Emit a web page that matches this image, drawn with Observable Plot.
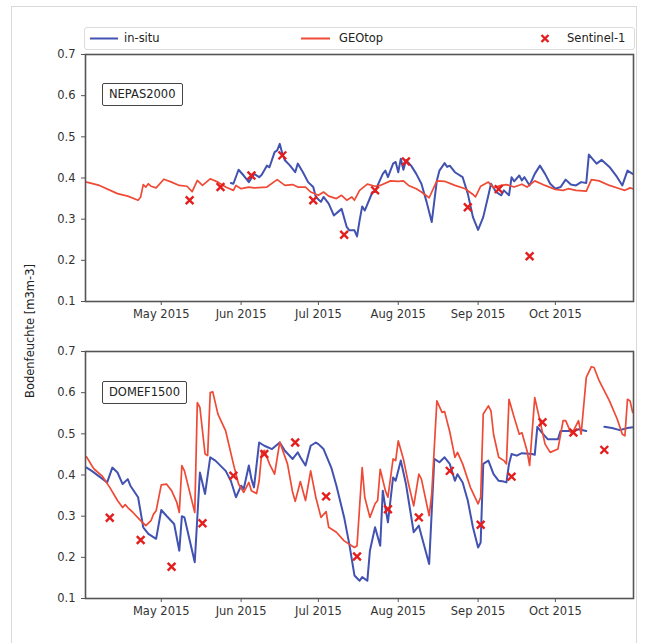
<!DOCTYPE html>
<html>
<head>
<meta charset="utf-8">
<script src="https://cdn.jsdelivr.net/npm/d3@7"></script>
<script src="https://cdn.jsdelivr.net/npm/@observablehq/plot@0.6"></script>
<style>
  body { margin: 0; background: #fff; font-family: "DejaVu Sans", sans-serif; color: #333; }
  #fig { position: relative; width: 646px; height: 643px; overflow: hidden; }
  .outer { position: absolute; left: 11px; top: 6px; width: 624px; height: 645px; border: 1px solid #d9d9d9; }
  .panel { position: absolute; left: 0; }
  .legend { position: absolute; left: 84px; top: 27px; width: 549px; height: 21px; border: 1px solid #dcdcdc; border-radius: 3px; background: #fff; }
  .legend svg { position: absolute; left: 0; top: 0; overflow: visible; }
  .leg-text { position: absolute; top: 3px; font-size: 11.5px; line-height: 14px; color: #222; white-space: nowrap; }
  .ylabel { position: absolute; left: 30px; top: 331px; transform: translate(-50%, -50%) rotate(-90deg); font-size: 11.5px; white-space: nowrap; color: #222; }
  .station { position: absolute; font-size: 11.5px; line-height: 13px; padding: 4px 6px; border: 1.5px solid #444; border-radius: 2px; background: #fff; color: #222; white-space: nowrap; }
</style>
</head>
<body>
<div id="fig">
  <div class="outer"></div>
  <div class="ylabel">Bodenfeuchte [m3m-3]</div>
</div>
<script>
// Soil moisture 2015: station measurements, GEOtop model and Sentinel-1 retrievals
const seriesNames = ["in-situ", "GEOtop", "Sentinel-1"];
const monthTicks = ["2015-05-01", "2015-06-01", "2015-07-01", "2015-08-01", "2015-09-01", "2015-10-01"];
const yTicks = [0.1, 0.2, 0.3, 0.4, 0.5, 0.6, 0.7];
const stations = ["NEPAS2000", "DOMEF1500"];

const nepasInsitu = [["2015-05-28",0.388],["2015-05-29",0.386],["2015-05-31",0.420],["2015-06-02",0.406],["2015-06-04",0.390],["2015-06-06",0.410],["2015-06-08",0.402],["2015-06-09",0.408],["2015-06-11",0.430],["2015-06-12",0.426],["2015-06-14",0.463],["2015-06-15",0.467],["2015-06-16",0.483],["2015-06-17",0.459],["2015-06-18",0.443],["2015-06-20",0.430],["2015-06-22",0.414],["2015-06-23",0.435],["2015-06-25",0.414],["2015-06-27",0.390],["2015-06-29",0.378],["2015-06-30",0.354],["2015-07-02",0.342],["2015-07-03",0.354],["2015-07-05",0.338],["2015-07-07",0.309],["2015-07-10",0.325],["2015-07-12",0.281],["2015-07-13",0.273],["2015-07-15",0.273],["2015-07-16",0.258],["2015-07-17",0.297],["2015-07-18",0.331],["2015-07-19",0.321],["2015-07-22",0.366],["2015-07-23",0.366],["2015-07-24",0.382],["2015-07-26",0.410],["2015-07-27",0.418],["2015-07-28",0.402],["2015-07-30",0.435],["2015-07-31",0.439],["2015-08-01",0.414],["2015-08-02",0.447],["2015-08-03",0.420],["2015-08-04",0.443],["2015-08-06",0.430],["2015-08-08",0.410],["2015-08-10",0.386],["2015-08-12",0.342],["2015-08-14",0.293],["2015-08-16",0.394],["2015-08-17",0.418],["2015-08-19",0.436],["2015-08-20",0.427],["2015-08-21",0.430],["2015-08-23",0.414],["2015-08-26",0.402],["2015-08-28",0.362],["2015-08-30",0.305],["2015-09-01",0.274],["2015-09-03",0.305],["2015-09-05",0.358],["2015-09-06",0.386],["2015-09-08",0.366],["2015-09-10",0.358],["2015-09-11",0.370],["2015-09-13",0.358],["2015-09-14",0.402],["2015-09-15",0.392],["2015-09-17",0.406],["2015-09-18",0.394],["2015-09-19",0.402],["2015-09-21",0.382],["2015-09-23",0.410],["2015-09-25",0.430],["2015-09-27",0.410],["2015-09-29",0.386],["2015-10-01",0.374],["2015-10-03",0.378],["2015-10-05",0.396],["2015-10-07",0.384],["2015-10-09",0.382],["2015-10-11",0.390],["2015-10-13",0.388],["2015-10-14",0.457],["2015-10-17",0.435],["2015-10-19",0.444],["2015-10-22",0.427],["2015-10-25",0.402],["2015-10-27",0.382],["2015-10-29",0.418],["2015-10-31",0.410]];

const nepasGeotop = [["2015-04-02",0.390],["2015-04-07",0.382],["2015-04-14",0.362],["2015-04-18",0.356],["2015-04-22",0.346],["2015-04-23",0.354],["2015-04-24",0.384],["2015-04-25",0.378],["2015-04-26",0.386],["2015-04-27",0.380],["2015-04-29",0.376],["2015-05-02",0.397],["2015-05-05",0.390],["2015-05-08",0.382],["2015-05-11",0.380],["2015-05-13",0.367],["2015-05-15",0.394],["2015-05-17",0.382],["2015-05-20",0.398],["2015-05-23",0.390],["2015-05-26",0.378],["2015-05-29",0.370],["2015-05-30",0.382],["2015-06-01",0.374],["2015-06-04",0.378],["2015-06-06",0.376],["2015-06-11",0.378],["2015-06-15",0.396],["2015-06-18",0.382],["2015-06-21",0.384],["2015-06-23",0.378],["2015-06-26",0.378],["2015-06-28",0.366],["2015-07-01",0.358],["2015-07-03",0.366],["2015-07-05",0.356],["2015-07-08",0.350],["2015-07-10",0.358],["2015-07-12",0.346],["2015-07-14",0.354],["2015-07-15",0.346],["2015-07-17",0.370],["2015-07-20",0.385],["2015-07-23",0.380],["2015-07-25",0.382],["2015-07-29",0.393],["2015-08-01",0.392],["2015-08-03",0.393],["2015-08-05",0.382],["2015-08-08",0.374],["2015-08-10",0.366],["2015-08-13",0.352],["2015-08-16",0.393],["2015-08-19",0.392],["2015-08-23",0.382],["2015-08-27",0.374],["2015-08-30",0.360],["2015-08-31",0.354],["2015-09-02",0.380],["2015-09-05",0.390],["2015-09-07",0.376],["2015-09-10",0.382],["2015-09-12",0.384],["2015-09-15",0.378],["2015-09-18",0.385],["2015-09-20",0.378],["2015-09-23",0.393],["2015-09-27",0.382],["2015-10-01",0.372],["2015-10-04",0.370],["2015-10-06",0.374],["2015-10-09",0.370],["2015-10-13",0.368],["2015-10-15",0.396],["2015-10-18",0.393],["2015-10-22",0.382],["2015-10-26",0.374],["2015-10-28",0.370],["2015-10-30",0.376],["2015-10-31",0.374]];

const nepasS1 = [["2015-05-12",0.346],["2015-05-24",0.378],["2015-06-05",0.406],["2015-06-17",0.455],["2015-06-29",0.346],["2015-07-11",0.262],["2015-07-23",0.370],["2015-08-04",0.440],["2015-08-28",0.329],["2015-09-09",0.373],["2015-09-21",0.210]];

const domefInsitu = [["2015-04-02",0.418],["2015-04-04",0.410],["2015-04-10",0.382],["2015-04-12",0.418],["2015-04-14",0.406],["2015-04-16",0.378],["2015-04-18",0.390],["2015-04-19",0.374],["2015-04-22",0.346],["2015-04-24",0.273],["2015-04-26",0.257],["2015-04-29",0.245],["2015-05-01",0.315],["2015-05-03",0.301],["2015-05-06",0.281],["2015-05-08",0.216],["2015-05-09",0.300],["2015-05-10",0.297],["2015-05-14",0.188],["2015-05-16",0.406],["2015-05-18",0.354],["2015-05-20",0.443],["2015-05-22",0.435],["2015-05-26",0.410],["2015-05-28",0.386],["2015-05-30",0.346],["2015-06-01",0.374],["2015-06-02",0.366],["2015-06-04",0.423],["2015-06-05",0.390],["2015-06-06",0.370],["2015-06-08",0.479],["2015-06-10",0.471],["2015-06-13",0.463],["2015-06-16",0.479],["2015-06-18",0.459],["2015-06-21",0.439],["2015-06-23",0.455],["2015-06-24",0.443],["2015-06-26",0.423],["2015-06-28",0.471],["2015-06-30",0.479],["2015-07-01",0.475],["2015-07-03",0.463],["2015-07-06",0.418],["2015-07-08",0.374],["2015-07-11",0.297],["2015-07-13",0.232],["2015-07-15",0.156],["2015-07-17",0.143],["2015-07-18",0.152],["2015-07-20",0.143],["2015-07-21",0.216],["2015-07-23",0.273],["2015-07-25",0.228],["2015-07-26",0.362],["2015-07-27",0.321],["2015-07-28",0.285],["2015-07-30",0.394],["2015-07-31",0.386],["2015-08-02",0.435],["2015-08-04",0.378],["2015-08-07",0.261],["2015-08-09",0.277],["2015-08-10",0.253],["2015-08-13",0.184],["2015-08-15",0.439],["2015-08-17",0.431],["2015-08-19",0.443],["2015-08-21",0.427],["2015-08-23",0.386],["2015-08-24",0.402],["2015-08-26",0.382],["2015-08-28",0.338],["2015-08-30",0.273],["2015-09-01",0.224],["2015-09-02",0.236],["2015-09-03",0.427],["2015-09-05",0.435],["2015-09-07",0.402],["2015-09-09",0.386],["2015-09-11",0.384],["2015-09-12",0.382],["2015-09-13",0.427],["2015-09-14",0.451],["2015-09-16",0.447],["2015-09-18",0.453],["2015-09-22",0.451],["2015-09-23",0.449],["2015-09-24",0.517],["2015-09-26",0.501],["2015-09-28",0.487],["2015-10-02",0.487],["2015-10-03",0.507],["2015-10-06",0.507],["2015-10-08",0.507],["2015-10-10",0.511],["2015-10-13",0.507],["2015-10-16",null],["2015-10-20",0.517],["2015-10-23",0.514],["2015-10-26",0.509],["2015-10-29",0.514],["2015-10-31",0.516]];

const domefGeotop = [["2015-04-02",0.444],["2015-04-04",0.423],["2015-04-05",0.414],["2015-04-08",0.398],["2015-04-11",0.370],["2015-04-14",0.338],["2015-04-16",0.321],["2015-04-17",0.328],["2015-04-18",0.321],["2015-04-20",0.309],["2015-04-23",0.289],["2015-04-25",0.277],["2015-04-27",0.289],["2015-04-28",0.305],["2015-04-29",0.313],["2015-05-01",0.376],["2015-05-03",0.378],["2015-05-05",0.362],["2015-05-07",0.334],["2015-05-08",0.309],["2015-05-09",0.423],["2015-05-10",0.410],["2015-05-14",0.309],["2015-05-15",0.576],["2015-05-16",0.564],["2015-05-18",0.451],["2015-05-19",0.447],["2015-05-20",0.600],["2015-05-21",0.602],["2015-05-23",0.548],["2015-05-26",0.507],["2015-05-29",0.427],["2015-05-31",0.378],["2015-06-02",0.358],["2015-06-04",0.382],["2015-06-05",0.362],["2015-06-07",0.355],["2015-06-08",0.386],["2015-06-09",0.455],["2015-06-10",0.460],["2015-06-12",0.427],["2015-06-14",0.402],["2015-06-16",0.480],["2015-06-19",0.427],["2015-06-21",0.358],["2015-06-22",0.336],["2015-06-24",0.384],["2015-06-26",0.338],["2015-06-28",0.410],["2015-06-30",0.346],["2015-07-02",0.297],["2015-07-04",0.311],["2015-07-05",0.273],["2015-07-08",0.261],["2015-07-11",0.240],["2015-07-15",0.224],["2015-07-16",0.228],["2015-07-18",0.418],["2015-07-19",0.346],["2015-07-21",0.297],["2015-07-23",0.330],["2015-07-24",0.338],["2015-07-25",0.414],["2015-07-27",0.362],["2015-07-28",0.346],["2015-07-30",0.439],["2015-07-31",0.435],["2015-08-01",0.483],["2015-08-03",0.439],["2015-08-05",0.378],["2015-08-07",0.325],["2015-08-09",0.402],["2015-08-10",0.390],["2015-08-13",0.301],["2015-08-14",0.354],["2015-08-16",0.580],["2015-08-18",0.552],["2015-08-19",0.554],["2015-08-21",0.505],["2015-08-23",0.443],["2015-08-24",0.455],["2015-08-26",0.427],["2015-08-29",0.370],["2015-09-01",0.330],["2015-09-02",0.346],["2015-09-03",0.548],["2015-09-05",0.568],["2015-09-06",0.556],["2015-09-07",0.499],["2015-09-09",0.443],["2015-09-11",0.435],["2015-09-12",0.427],["2015-09-13",0.584],["2015-09-15",0.540],["2015-09-17",0.499],["2015-09-18",0.503],["2015-09-20",0.459],["2015-09-21",0.423],["2015-09-23",0.588],["2015-09-25",0.532],["2015-09-27",0.475],["2015-09-29",0.455],["2015-10-02",0.463],["2015-10-04",0.532],["2015-10-05",0.532],["2015-10-07",0.503],["2015-10-08",0.507],["2015-10-10",0.532],["2015-10-11",0.499],["2015-10-13",0.637],["2015-10-15",0.663],["2015-10-16",0.661],["2015-10-18",0.629],["2015-10-22",0.580],["2015-10-25",0.536],["2015-10-27",0.499],["2015-10-28",0.495],["2015-10-29",0.584],["2015-10-30",0.580],["2015-10-31",0.552]];

const domefS1 = [["2015-04-11",0.296],["2015-04-23",0.242],["2015-05-05",0.177],["2015-05-17",0.283],["2015-05-29",0.398],["2015-06-10",0.451],["2015-06-22",0.479],["2015-07-04",0.348],["2015-07-16",0.202],["2015-07-28",0.317],["2015-08-09",0.297],["2015-08-21",0.410],["2015-09-02",0.279],["2015-09-14",0.396],["2015-09-26",0.528],["2015-10-08",0.503],["2015-10-20",0.461]];

const colors = { insitu: "#4152b0", geotop: "#ee4a35", s1: "#e41d1d" };

const fig = document.getElementById("fig");
const X = d => new Date(d[0]);
const Y = d => d[1];
const xDomain = [new Date("2015-04-01T14:00Z"), new Date("2015-10-31T08:00Z")];

function panel(insitu, geotop, s1, top, marginTop, marginBottom) {
  const chart = Plot.plot({
    width: 646,
    height: marginTop + 247 + marginBottom,
    marginLeft: 85, marginRight: 13, marginTop, marginBottom,
    style: { fontFamily: "DejaVu Sans, sans-serif", fontSize: "11.5px", color: "#333", background: "transparent" },
    x: { type: "utc", domain: xDomain, label: null },
    y: { domain: [0.1, 0.7], label: null },
    marks: [
      Plot.line(insitu, { x: X, y: Y, stroke: colors.insitu, strokeWidth: 2 }),
      Plot.line(geotop, { x: X, y: Y, stroke: colors.geotop, strokeWidth: 1.7 }),
      Plot.dot(s1, { x: X, y: Y, symbol: "times", r: 3.6, stroke: colors.s1, strokeWidth: 2.4 }),
      Plot.frame({ stroke: "#555", strokeWidth: 1.6 }),
      Plot.axisX({ ticks: monthTicks.map(s => new Date(s)), tickFormat: d3.utcFormat("%b %Y"), tickSize: 4, tickPadding: 4, label: null, stroke: "#555" }),
      Plot.axisY({ ticks: yTicks, tickFormat: d3.format(".1f"), tickSize: 4, tickPadding: 6, label: null, stroke: "#555" })
    ]
  });
  chart.classList.add("panel");
  chart.style.top = top + "px";
  fig.appendChild(chart);
}

panel(nepasInsitu, nepasGeotop, nepasS1, 44, 10, 30);
panel(domefInsitu, domefGeotop, domefS1, 340, 11, 35);

// station labels
[[stations[0], 102, 83], [stations[1], 102, 381]].forEach(([name, left, top]) => {
  const el = document.createElement("div");
  el.className = "station";
  el.textContent = name;
  el.style.left = left + "px";
  el.style.top = top + "px";
  fig.appendChild(el);
});

// legend
const legend = document.createElement("div");
legend.className = "legend";
legend.innerHTML = `
  <svg width="549" height="21">
    <line x1="5" x2="33" y1="10.5" y2="10.5" stroke="${colors.insitu}" stroke-width="2"/>
    <line x1="216" x2="245" y1="10.5" y2="10.5" stroke="${colors.geotop}" stroke-width="2"/>
    <path d="M456.5,7L463.5,14M463.5,7L456.5,14" stroke="${colors.s1}" stroke-width="2.4"/>
  </svg>
  <span class="leg-text" style="left:39px">${seriesNames[0]}</span>
  <span class="leg-text" style="left:254px">${seriesNames[1]}</span>
  <span class="leg-text" style="left:482px">${seriesNames[2]}</span>`;
fig.appendChild(legend);
</script>
</body>
</html>
